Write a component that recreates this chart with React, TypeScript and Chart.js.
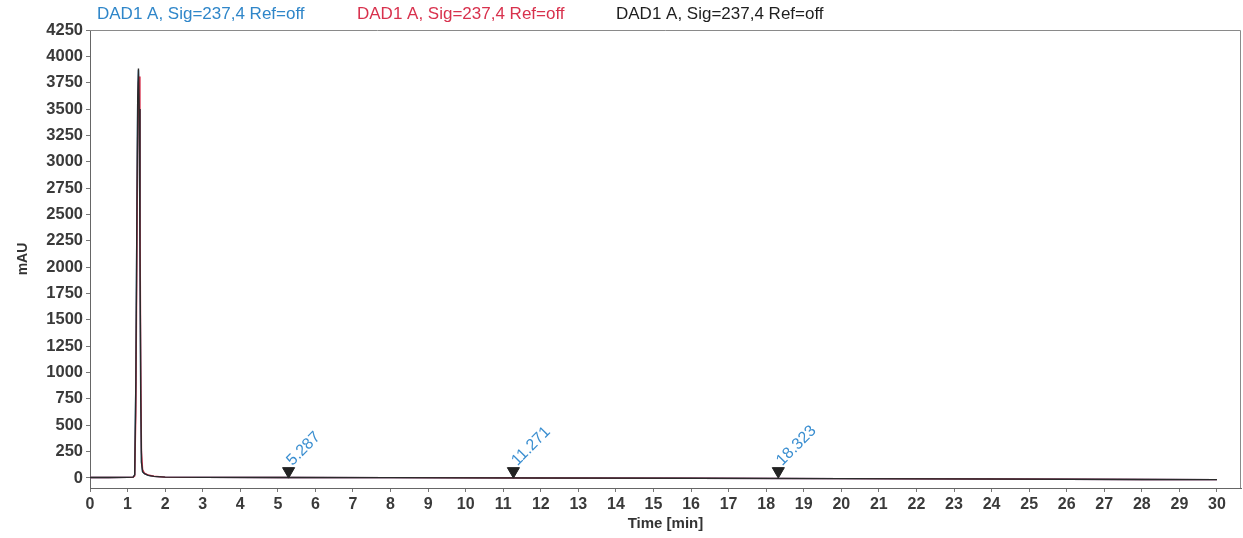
import React, { useEffect, useRef } from 'react';
import { Chart, registerables } from 'chart.js';

Chart.register(...registerables);

const FONT = '"Liberation Sans", Arial, Helvetica, sans-serif';

const timeMin = [0, 0.5, 1.0, 1.15, 1.19, 1.22, 1.25, 1.27, 1.29, 1.31, 1.33, 1.35, 1.37, 1.4, 1.45, 1.55, 1.7, 2.0, 3, 5, 8, 12, 16, 20, 24, 28, 30];
const sigBlue = [5, 5, 6, 8, 30, 900, 2600, 3600, 3870, 3500, 2200, 800, 150, 60, 40, 25, 15, 8, 6, 5, 3, 0, -3, -6, -10, -14, -16];
const sigRed = [5, 5, 6, 8, 20, 600, 2200, 3300, 3750, 3810, 2600, 1100, 250, 80, 45, 28, 16, 8, 6, 5, 3, 0, -3, -6, -10, -14, -16];
const sigBlack = [5, 5, 6, 8, 30, 900, 2600, 3600, 3885, 3500, 2200, 800, 150, 60, 40, 25, 15, 8, 6, 5, 3, 0, -3, -6, -10, -14, -16];

const peakTimes = [5.287, 11.271, 18.323];
const peakMarkY = [65, 65, 65];

const xTicks = [0, 1, 2, 3, 4, 5, 6, 7, 8, 9, 10, 11, 12, 13, 14, 15, 16, 17, 18, 19, 20, 21, 22, 23, 24, 25, 26, 27, 28, 29, 30];
const yTicks = [0, 250, 500, 750, 1000, 1250, 1500, 1750, 2000, 2250, 2500, 2750, 3000, 3250, 3500, 3750, 4000, 4250];

const seriesLabels = ['DAD1 A, Sig=237,4 Ref=off', 'DAD1 A, Sig=237,4 Ref=off', 'DAD1 A, Sig=237,4 Ref=off'];
const seriesColors = ['#3a8ccc', '#d8334f', '#2a2a2a'];
const seriesOrder = [2, 1, 0];
const headerColors = ['#2f86c9', '#d8314d', '#1e1e1e'];
const headerOffsets = [7, 267, 526];

const toXY = (vals: number[]) => timeMin.map((t, i) => ({ x: t, y: vals[i] }));

export default function App() {
  const ref = useRef<HTMLCanvasElement | null>(null);

  useEffect(() => {
    if (!ref.current) return;

    const headerPlugin = {
      id: 'headerPlugin',
      afterDraw(chart: any) {
        const { ctx, chartArea } = chart;
        ctx.save();
        ctx.font = `17px ${FONT}`;
        ctx.textBaseline = 'middle';
        ctx.textAlign = 'left';
        seriesLabels.forEach((lab, i) => {
          ctx.fillStyle = headerColors[i];
          ctx.fillText(lab, chartArea.left + headerOffsets[i], chartArea.top - 16);
        });
        ctx.restore();
      },
    };

    const framePlugin = {
      id: 'framePlugin',
      beforeDatasetsDraw(chart: any) {
        const { ctx, chartArea } = chart;
        ctx.save();
        ctx.strokeStyle = '#8a8a8a';
        ctx.lineWidth = 1;
        ctx.beginPath();
        ctx.moveTo(chartArea.left, chartArea.top + 0.5);
        ctx.lineTo(chartArea.right - 0.5, chartArea.top + 0.5);
        ctx.lineTo(chartArea.right - 0.5, chartArea.bottom);
        ctx.stroke();
        ctx.restore();
      },
    };

    const peakLabelPlugin = {
      id: 'peakLabelPlugin',
      afterDatasetsDraw(chart: any) {
        const meta = chart.getDatasetMeta(3);
        const { ctx } = chart;
        ctx.save();
        ctx.font = `16px ${FONT}`;
        ctx.fillStyle = '#3a8ed0';
        ctx.textAlign = 'left';
        ctx.textBaseline = 'alphabetic';
        meta.data.forEach((el: any, i: number) => {
          ctx.save();
          ctx.translate(el.x + 4, el.y - 5);
          ctx.rotate(-Math.PI / 4);
          ctx.fillText(peakTimes[i].toFixed(3), 0, 0);
          ctx.restore();
        });
        ctx.restore();
      },
    };

    const lineDs = (i: number, vals: number[]) => ({
      type: 'line' as const,
      label: seriesLabels[i],
      data: toXY(vals),
      order: seriesOrder[i],
      borderColor: seriesColors[i],
      backgroundColor: seriesColors[i],
      borderWidth: 1.4,
      pointRadius: 0,
      tension: 0,
      fill: false,
    });

    const chart = new Chart(ref.current, {
      type: 'line',
      data: {
        datasets: [
          lineDs(0, sigBlue),
          lineDs(1, sigRed),
          lineDs(2, sigBlack),
          {
            type: 'scatter' as const,
            label: 'peaks',
            order: -1,
            data: peakTimes.map((t, i) => ({ x: t, y: peakMarkY[i] })),
            pointStyle: 'triangle',
            rotation: 180,
            pointRadius: 7,
            backgroundColor: '#222',
            borderColor: '#222',
            borderWidth: 1,
            showLine: false,
          } as any,
        ],
      },
      options: {
        animation: false,
        responsive: false,
        maintainAspectRatio: false,
        devicePixelRatio: 1,
        layout: { padding: { top: 30, right: 2, left: 0, bottom: 0 } },
        plugins: {
          legend: { display: false },
          tooltip: { enabled: false },
        },
        scales: {
          x: {
            type: 'linear',
            min: 0,
            max: 30.64,
            afterBuildTicks: (s: any) => {
              s.ticks = xTicks.map((v) => ({ value: v }));
            },
            afterFit: (s: any) => {
              s.height = 50;
              s.paddingLeft = 0;
              s.paddingRight = 0;
            },
            grid: { drawOnChartArea: false, drawTicks: true, tickLength: 4, color: '#777' },
            border: { display: true, color: '#666', width: 1 },
            ticks: {
              autoSkip: false,
              maxRotation: 0,
              padding: 3,
              color: '#3a3a3a',
              font: { family: FONT, size: 16, weight: 'bold' },
              callback: (v: any) => String(v),
            },
            title: {
              display: true,
              text: 'Time [min]',
              color: '#333',
              font: { family: FONT, size: 15, weight: 'bold' },
              padding: { top: 4, bottom: 5 },
            },
          },
          y: {
            type: 'linear',
            min: -95,
            max: 4250,
            afterBuildTicks: (s: any) => {
              s.ticks = yTicks.map((v) => ({ value: v }));
            },
            afterFit: (s: any) => {
              s.width = 90;
              s.paddingTop = 0;
              s.paddingBottom = 0;
            },
            grid: { drawOnChartArea: false, drawTicks: true, tickLength: 4, color: '#777' },
            border: { display: true, color: '#666', width: 1 },
            ticks: {
              autoSkip: false,
              padding: 3,
              color: '#3a3a3a',
              font: { family: FONT, size: 16.5, weight: 'bold' },
              callback: (v: any) => String(v),
            },
            title: {
              display: true,
              text: 'mAU',
              color: '#333',
              font: { family: FONT, size: 14, weight: 'bold' },
              padding: { top: 15, bottom: 0 },
            },
          },
        },
      } as any,
      plugins: [headerPlugin, framePlugin, peakLabelPlugin],
    });

    return () => chart.destroy();
  }, []);

  return (
    <div style={{ position: 'fixed', left: 0, top: 0, width: 1243, height: 538, overflow: 'hidden', background: '#fff' }}>
      <canvas ref={ref} width={1249} height={538} style={{ display: 'block', width: 1249, height: 538 }} />
    </div>
  );
}
